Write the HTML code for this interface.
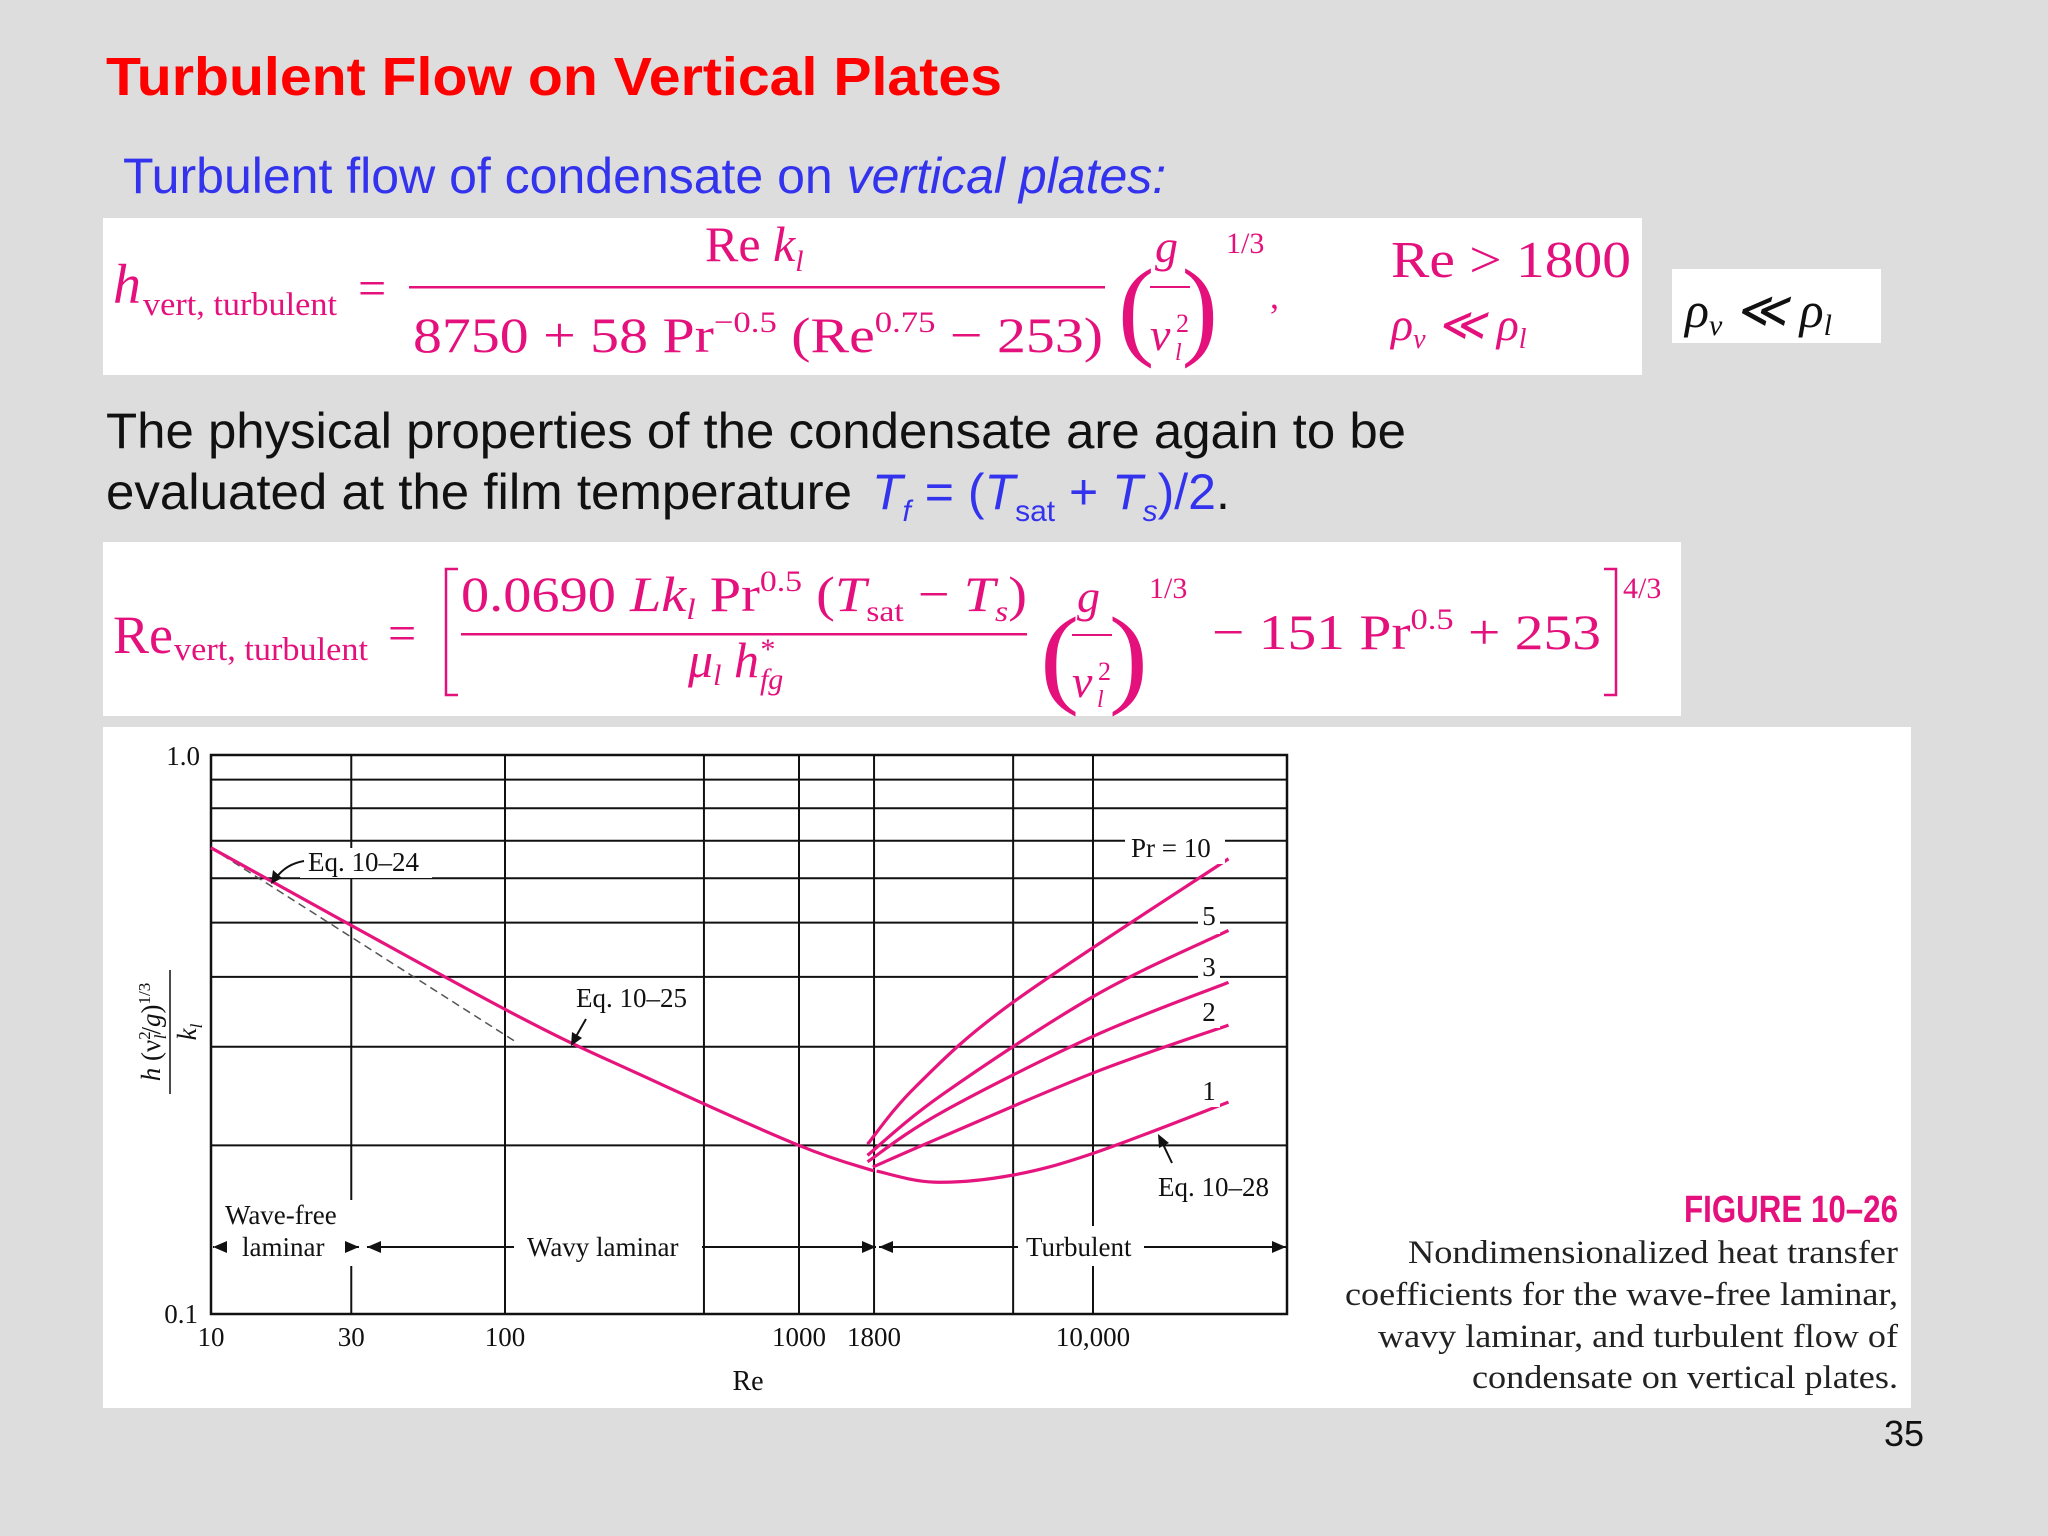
<!DOCTYPE html>
<html><head><meta charset="utf-8"><style>
html,body{margin:0;padding:0;background:#dddddd;}
svg{display:block;}
.s{font-family:"Liberation Serif",serif;}
.a{font-family:"Liberation Sans",sans-serif;}
.m{fill:#e4107c;}
</style></head><body>
<svg id="root" width="2048" height="1536" viewBox="0 0 2048 1536" xmlns="http://www.w3.org/2000/svg">
<rect x="0" y="0" width="2048" height="1536" fill="#dddddd"/>
<text class="a" x="106" y="95" font-size="54" font-weight="bold" fill="#ff0000" textLength="896" lengthAdjust="spacingAndGlyphs">Turbulent Flow on Vertical Plates</text>
<text class="a" x="123" y="193" font-size="50" fill="#3333ee"><tspan>Turbulent flow of condensate on </tspan><tspan font-style="italic">vertical plates:</tspan></text>

<g>
<rect x="103" y="218" width="1539" height="157" fill="#ffffff"/>
<text class="s m" x="113" y="303" font-size="56" font-style="italic">h</text>
<text class="s m" x="143" y="315" font-size="33" textLength="194" lengthAdjust="spacingAndGlyphs">vert, turbulent</text>
<text class="s m" x="358" y="305" font-size="50">=</text>
<rect x="409" y="286" width="696" height="2.5" fill="#e4107c"/>
<text class="s m" x="705" y="261" font-size="50">Re <tspan font-style="italic">k</tspan><tspan font-size="30" font-style="italic" dy="10">l</tspan></text>
<text class="s m" x="413" y="352" font-size="50" textLength="690" lengthAdjust="spacingAndGlyphs">8750 + 58 Pr<tspan font-size="30" dy="-20">−0.5</tspan><tspan dy="20"> (Re</tspan><tspan font-size="30" dy="-20">0.75</tspan><tspan dy="20"> − 253)</tspan></text>
<text class="s m" x="1118" y="345" font-size="110" font-weight="100" textLength="100" lengthAdjust="spacingAndGlyphs">(   )</text>
<text class="s m" x="1155" y="262" font-size="46" font-style="italic">g</text>
<rect x="1150" y="286" width="40" height="2" fill="#e4107c"/>
<text class="s m" x="1150" y="350" font-size="46" font-style="italic">ν</text>
<text class="s m" x="1176" y="332" font-size="26">2</text>
<text class="s m" x="1175" y="360" font-size="24" font-style="italic">l</text>
<text class="s m" x="1226" y="253" font-size="30">1/3</text>
<text class="s m" x="1270" y="308" font-size="36">,</text>
<text class="s m" x="1391" y="277" font-size="52" textLength="240" lengthAdjust="spacingAndGlyphs">Re &gt; 1800</text>
<text class="s m" x="1391" y="340" font-size="46" font-style="italic">ρ<tspan font-size="28" dy="8">v</tspan><tspan dy="-8"> ≪ ρ</tspan><tspan font-size="28" dy="8">l</tspan></text>
</g>
<g>
<rect x="1672" y="269" width="209" height="74" fill="#ffffff"/>
<text class="s" x="1685" y="327" font-size="50" font-style="italic" fill="#111">ρ<tspan font-size="30" dy="8">v</tspan><tspan dy="-8"> ≪ ρ</tspan><tspan font-size="30" dy="8">l</tspan></text>
</g>

<text class="a" x="106" y="448" font-size="50" fill="#111" textLength="1300" lengthAdjust="spacingAndGlyphs">The physical properties of the condensate are again to be</text>
<text class="a" x="106" y="509" font-size="50" fill="#111" textLength="746" lengthAdjust="spacingAndGlyphs">evaluated at the film temperature</text>
<text class="a" x="872" y="509" font-size="50" fill="#3333ee"><tspan font-style="italic">T</tspan><tspan font-size="30" dy="12" font-style="italic">f</tspan><tspan dy="-12"> = (</tspan><tspan font-style="italic">T</tspan><tspan font-size="30" dy="12">sat</tspan><tspan dy="-12"> + </tspan><tspan font-style="italic">T</tspan><tspan font-size="30" dy="12" font-style="italic">s</tspan><tspan dy="-12">)/2</tspan><tspan fill="#111">.</tspan></text>

<g>
<rect x="103" y="542" width="1578" height="174" fill="#ffffff"/>
<text class="s m" x="113" y="653" font-size="54">Re</text>
<text class="s m" x="174" y="660" font-size="33" textLength="194" lengthAdjust="spacingAndGlyphs">vert, turbulent</text>
<text class="s m" x="388" y="650" font-size="50">=</text>
<path d="M458 569 H446 V695 H458" fill="none" stroke="#e4107c" stroke-width="2.5"/>
<text class="s m" x="461" y="611" font-size="50" textLength="566" lengthAdjust="spacingAndGlyphs">0.0690 <tspan font-style="italic">Lk</tspan><tspan font-size="30" dy="8" font-style="italic">l</tspan><tspan dy="-8"> Pr</tspan><tspan font-size="30" dy="-20">0.5</tspan><tspan dy="20"> (</tspan><tspan font-style="italic">T</tspan><tspan font-size="30" dy="10">sat</tspan><tspan dy="-10"> − </tspan><tspan font-style="italic">T</tspan><tspan font-size="30" dy="10" font-style="italic">s</tspan><tspan dy="-10">)</tspan></text>
<rect x="461" y="633" width="566" height="2.5" fill="#e4107c"/>
<text class="s m" x="688" y="677" font-size="50" font-style="italic">μ<tspan font-size="30" dy="8">l</tspan><tspan dy="-8"> h</tspan><tspan font-size="30" dy="-18">*</tspan><tspan font-size="30" dx="-14" dy="30">fg</tspan></text>
<text class="s m" x="1040" y="693" font-size="110" textLength="108" lengthAdjust="spacingAndGlyphs">(   )</text>
<text class="s m" x="1077" y="612" font-size="46" font-style="italic">g</text>
<rect x="1072" y="634" width="40" height="2" fill="#e4107c"/>
<text class="s m" x="1072" y="697" font-size="46" font-style="italic">ν</text>
<text class="s m" x="1098" y="680" font-size="26">2</text>
<text class="s m" x="1097" y="707" font-size="24" font-style="italic">l</text>
<text class="s m" x="1149" y="598" font-size="30">1/3</text>
<text class="s m" x="1212" y="649" font-size="50" textLength="389" lengthAdjust="spacingAndGlyphs">− 151 Pr<tspan font-size="30" dy="-20">0.5</tspan><tspan dy="20"> + 253</tspan></text>
<path d="M1604 569 H1616 V695 H1604" fill="none" stroke="#e4107c" stroke-width="2.5"/>
<text class="s m" x="1623" y="598" font-size="30">4/3</text>
</g>

<g id="chart">
<rect x="103" y="727" width="1808" height="681" fill="#ffffff"/>
<g id="grid"></g>
<g id="curves"></g>
<g id="labels"></g>
</g>
<g>
<text class="a" x="1898" y="1222" font-size="38" font-weight="bold" fill="#e4107c" text-anchor="end" textLength="214" lengthAdjust="spacingAndGlyphs">FIGURE 10–26</text>
<text class="s" x="1898" y="1263" font-size="33" fill="#222" text-anchor="end" textLength="490" lengthAdjust="spacingAndGlyphs">Nondimensionalized heat transfer</text>
<text class="s" x="1898" y="1305" font-size="33" fill="#222" text-anchor="end" textLength="553" lengthAdjust="spacingAndGlyphs">coefficients for the wave-free laminar,</text>
<text class="s" x="1898" y="1347" font-size="33" fill="#222" text-anchor="end" textLength="520" lengthAdjust="spacingAndGlyphs">wavy laminar, and turbulent flow of</text>
<text class="s" x="1898" y="1388" font-size="33" fill="#222" text-anchor="end" textLength="426" lengthAdjust="spacingAndGlyphs">condensate on vertical plates.</text>
</g>
<text class="a" x="1924" y="1446" font-size="36" fill="#111" text-anchor="end">35</text>
</svg>
<script>
const xGridValues=[10,30,100,475,1000,1800,5350,10000];
const yGridValues=[0.2,0.3,0.4,0.5,0.6,0.7,0.8,0.9];
const xTickValues=[10,30,100,1000,1800,10000];
const xTickLabels=["10","30","100","1000","1800","10,000"];
const mainRe=[10,100,300,1000,1800];
const mainH=[0.68,0.35,0.265,0.20,0.18];
const dashRe=[10,108];
const dashH=[0.68,0.307];
const pr10Re=[1710,2500,5333,28900];
const pr10H=[0.201,0.255,0.36,0.65];
const pr5Re=[1710,3055,10120,28900];
const pr5H=[0.192,0.246,0.37,0.484];
const pr3Re=[1710,3055,10120,28900];
const pr3H=[0.187,0.229,0.314,0.391];
const pr2Re=[1782,3055,10120,28900];
const pr2H=[0.183,0.207,0.27,0.328];
const pr1Re=[1837,2878,5333,10120,28900];
const pr1H=[0.180,0.172,0.177,0.194,0.239];

const NS="http://www.w3.org/2000/svg";
const X0=211,DEC=294,Y0=1314,YDEC=560,XR=1287,YT=755;
function xs(v){return X0+DEC*(Math.log10(v)-1);}
function ys(v){return Y0-YDEC*(Math.log10(v)+1);}
function mk(tag,attrs,parent){const e=document.createElementNS(NS,tag);for(const k in attrs)e.setAttribute(k,attrs[k]);parent.appendChild(e);return e;}
const grid=document.getElementById('grid'),curves=document.getElementById('curves'),labels=document.getElementById('labels');

xGridValues.forEach(v=>{const l=mk('line',{x1:xs(v),x2:xs(v),y1:YT,y2:Y0,stroke:'#111','stroke-width':2},grid);

});
yGridValues.forEach(v=>{const l=mk('line',{x1:X0,x2:XR,y1:ys(v),y2:ys(v),stroke:'#111','stroke-width':2},grid);

});
const frame=mk('rect',{x:X0,y:YT,width:XR-X0,height:Y0-YT,fill:'none',stroke:'#111','stroke-width':2.5},grid);



function smooth(re,h){const p=re.map((r,i)=>[xs(r),ys(h[i])]);let d='M'+p[0][0]+' '+p[0][1];
for(let i=0;i<p.length-1;i++){const p0=p[i-1]||p[i],p1=p[i],p2=p[i+1],p3=p[i+2]||p2;
const c1=[p1[0]+(p2[0]-p0[0])/6,p1[1]+(p2[1]-p0[1])/6],c2=[p2[0]-(p3[0]-p1[0])/6,p2[1]-(p3[1]-p1[1])/6];
d+=' C'+c1[0]+' '+c1[1]+' '+c2[0]+' '+c2[1]+' '+p2[0]+' '+p2[1];}return d;}

const dash=mk('path',{d:smooth(dashRe,dashH),fill:'none',stroke:'#555','stroke-width':1.5,'stroke-dasharray':'8 5'},curves);


const series=[[mainRe,mainH,'laminar-curve'],[pr10Re,pr10H,'pr-10-curve'],[pr5Re,pr5H,'pr-5-curve'],[pr3Re,pr3H,'pr-3-curve'],[pr2Re,pr2H,'pr-2-curve'],[pr1Re,pr1H,'pr-1-curve']];
series.forEach(s=>{const p=mk('path',{d:smooth(s[0],s[1]),fill:'none',stroke:'#e6157d','stroke-width':3.2},curves);

});

function txt(x,y,s,size,name,anchor,bg){
if(bg){const r=mk('rect',{x:bg[0],y:bg[1],width:bg[2],height:bg[3],fill:'#fff'},labels);

}
const t=mk('text',{x:x,y:y,'font-size':size,'font-family':'"Liberation Serif",serif',fill:'#111','text-anchor':anchor||'start'},labels);t.textContent=s;

return t;}

xTickValues.forEach((v,i)=>{txt(xs(v),1346,xTickLabels[i],27,'x-tick-label','middle');});
txt(200,765,'1.0',27,'y-tick-label','end');
txt(198,1323,'0.1',27,'y-tick-label','end');
txt(748,1390,'Re',28,'x-axis-title','middle');

const yt=mk('g',{transform:'translate(172,1032) rotate(-90)'},labels);


const yn=mk('text',{x:0,y:-12,'font-size':27,'font-family':'"Liberation Serif",serif','text-anchor':'middle',fill:'#111'},yt);
yn.innerHTML='<tspan font-style="italic">h</tspan> (ν<tspan font-size="17" dy="-10">2</tspan><tspan font-size="17" dx="-8" dy="16" font-style="italic">l</tspan><tspan dy="-6">/</tspan><tspan font-style="italic">g</tspan>)<tspan font-size="17" dy="-10">1/3</tspan>';
mk('line',{x1:-62,x2:62,y1:-2,y2:-2,stroke:'#111','stroke-width':1.5},yt);
const kd=mk('text',{x:0,y:24,'font-size':27,'font-family':'"Liberation Serif",serif','text-anchor':'middle',fill:'#111','font-style':'italic'},yt);
kd.innerHTML='k<tspan font-size="17" dy="6">l</tspan>';

txt(308,871,'Eq. 10–24',27,'eq-10-24-label','start',[300,848,132,30]);
txt(576,1007,'Eq. 10–25',27,'eq-10-25-label','start',[572,984,128,30]);
txt(1158,1196,'Eq. 10–28',27,'eq-10-28-label','start',[1154,1173,128,30]);
txt(1131,857,'Pr = 10',27,'pr-10-label','start',[1125,830,100,34]);
txt(1209,925,'5',27,'pr-5-label','middle',[1198,900,22,34]);
txt(1209,976,'3',27,'pr-3-label','middle',[1198,953,22,30]);
txt(1209,1021,'2',27,'pr-2-label','middle',[1198,998,22,30]);
txt(1209,1100,'1',27,'pr-1-label','middle',[1198,1077,22,30]);

const ar=mk('g',{stroke:'#111','stroke-width':2,fill:'none'},labels);


const AY=1247;
mk('rect',{x:214,y:1200,width:140,height:66,fill:'#fff',stroke:'none'},labels);
mk('rect',{x:516,y:1226,width:184,height:40,fill:'#fff',stroke:'none'},labels);
mk('rect',{x:1018,y:1226,width:126,height:40,fill:'#fff',stroke:'none'},labels);
txt(225,1224,'Wave-free',27,'wave-free-label');
txt(242,1256,'laminar',27,'laminar-label');
txt(527,1256,'Wavy laminar',27,'wavy-laminar-label');
txt(1026,1256,'Turbulent',27,'turbulent-label');
function arrowHead(x,dir){mk('path',{d:`M${x-dir*14} ${AY-6} L${x} ${AY} L${x-dir*14} ${AY+6} Z`,fill:'#111',stroke:'none'},labels);}
mk('line',{x1:213,x2:236,y1:AY,y2:AY},ar);arrowHead(213,-1);
mk('line',{x1:334,x2:359,y1:AY,y2:AY},ar);arrowHead(359,1);
mk('line',{x1:367,x2:514,y1:AY,y2:AY},ar);arrowHead(367,-1);
mk('line',{x1:702,x2:876,y1:AY,y2:AY},ar);arrowHead(876,1);
mk('line',{x1:879,x2:1018,y1:AY,y2:AY},ar);arrowHead(879,-1);
mk('line',{x1:1142,x2:1286,y1:AY,y2:AY},ar);arrowHead(1286,1);
mk('path',{d:'M304 861 Q286 864 276 878'},ar);
mk('path',{d:'M271 884 l2 -14 l9 8 Z',fill:'#111',stroke:'none'},labels);
mk('path',{d:'M586 1019 L574 1040'},ar);
mk('path',{d:'M571 1046 l1 -14 l10 6 Z',fill:'#111',stroke:'none'},labels);
mk('path',{d:'M1172 1163 L1161 1140'},ar);
mk('path',{d:'M1158 1134 l11 9 l-10 5 Z',fill:'#111',stroke:'none'},labels);
</script>
</body></html>
